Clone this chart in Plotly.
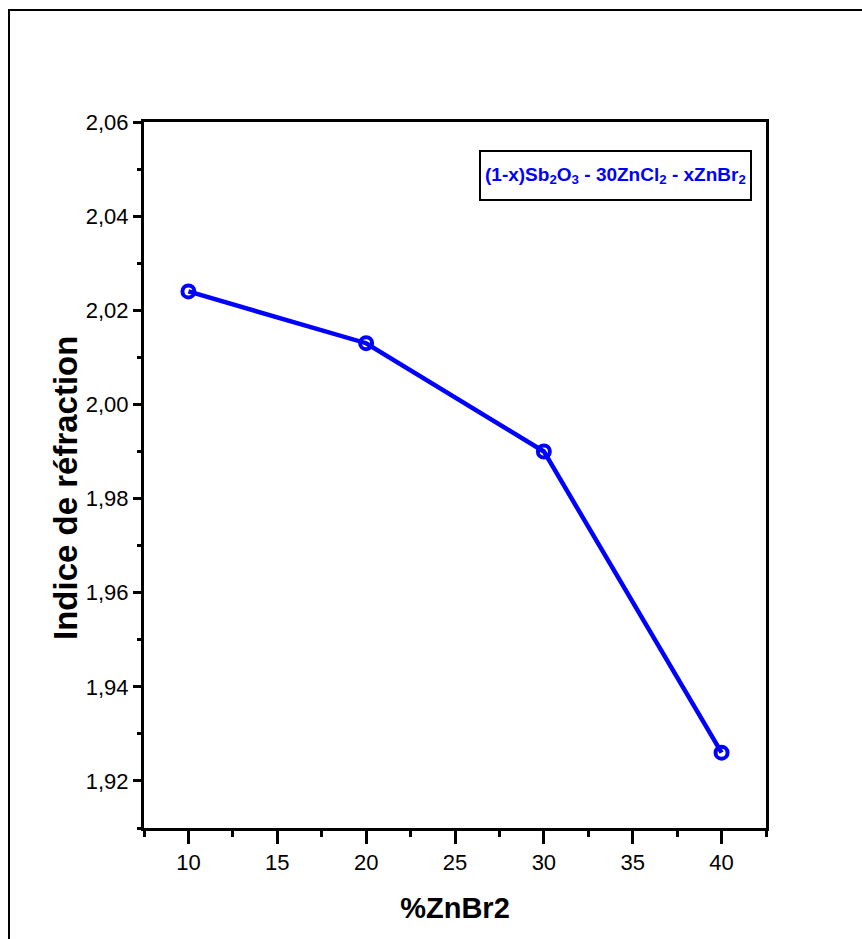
import plotly.graph_objects as go

x_zn = [10, 20, 30, 40]
n_ref = [2.024, 2.013, 1.990, 1.926]
legend_label = "(1-x)Sb<sub>2</sub>O<sub>3</sub> - 30ZnCl<sub>2</sub> - xZnBr<sub>2</sub>"
x_title = "%ZnBr2"
y_title = "Indice de réfraction"

SANS = "Liberation Sans, Arial, sans-serif"
BLUE = "#0000FF"

fig = go.Figure()
fig.add_trace(go.Scatter(
    x=x_zn, y=n_ref, mode="lines+markers",
    line=dict(color=BLUE, width=4.5),
    marker=dict(symbol="circle-open", size=12, color=BLUE, line=dict(color=BLUE, width=4)),
    showlegend=False,
))

fig.update_layout(
    width=862, height=939,
    margin=dict(l=144, r=96, t=122, b=111),
    paper_bgcolor="white", plot_bgcolor="white",
    separators=",.",
    xaxis=dict(
        range=[7.5, 42.5], dtick=5, tick0=0,
        showgrid=False, zeroline=False,
        showline=True, linecolor="black", linewidth=3, mirror=True,
        ticks="outside", ticklen=13, tickwidth=3, tickcolor="black",
        minor=dict(dtick=2.5, tick0=0, ticks="outside", ticklen=6, tickwidth=3, tickcolor="black"),
        tickfont=dict(family=SANS, size=22, color="black"),
        title=dict(text="<b>" + x_title + "</b>", font=dict(family=SANS, size=29, color="black"), standoff=24),
    ),
    yaxis=dict(
        range=[1.91, 2.06], dtick=0.02, tick0=1.92, tickformat=".2f",
        showgrid=False, zeroline=False,
        showline=True, linecolor="black", linewidth=3, mirror=True,
        ticks="outside", ticklen=8, tickwidth=3, tickcolor="black",
        minor=dict(dtick=0.01, tick0=1.91, ticks="outside", ticklen=4, tickwidth=3, tickcolor="black"),
        tickfont=dict(family=SANS, size=22, color="black"),
    ),
)

# y-axis title (placed as in the reference, slightly below the axis centre)
fig.add_annotation(
    xref="paper", yref="paper", x=(66 - 144) / 622, y=(828 - 488) / 706,
    xanchor="center", yanchor="middle", textangle=-90,
    text="<b>" + y_title + "</b>", showarrow=False,
    font=dict(family=SANS, size=33, color="black"),
)

# legend box
fig.add_annotation(
    xref="paper", yref="paper", x=(615.5 - 144) / 622, y=(828 - 150) / 706,
    xanchor="center", yanchor="top",
    text="<b>" + legend_label + "</b>", showarrow=False,
    font=dict(family=SANS, size=19, color=BLUE),
    bordercolor="black", borderwidth=2, borderpad=4, bgcolor="white",
    height=39,
)

# outer frame
fig.add_shape(type="rect", xref="paper", yref="paper",
              x0=(9 - 144) / 622, x1=(900 - 144) / 622,
              y0=(828 - 980) / 706, y1=(828 - 10) / 706,
              line=dict(color="black", width=2), fillcolor="rgba(0,0,0,0)", layer="below")

fig.write_html("out.html")
